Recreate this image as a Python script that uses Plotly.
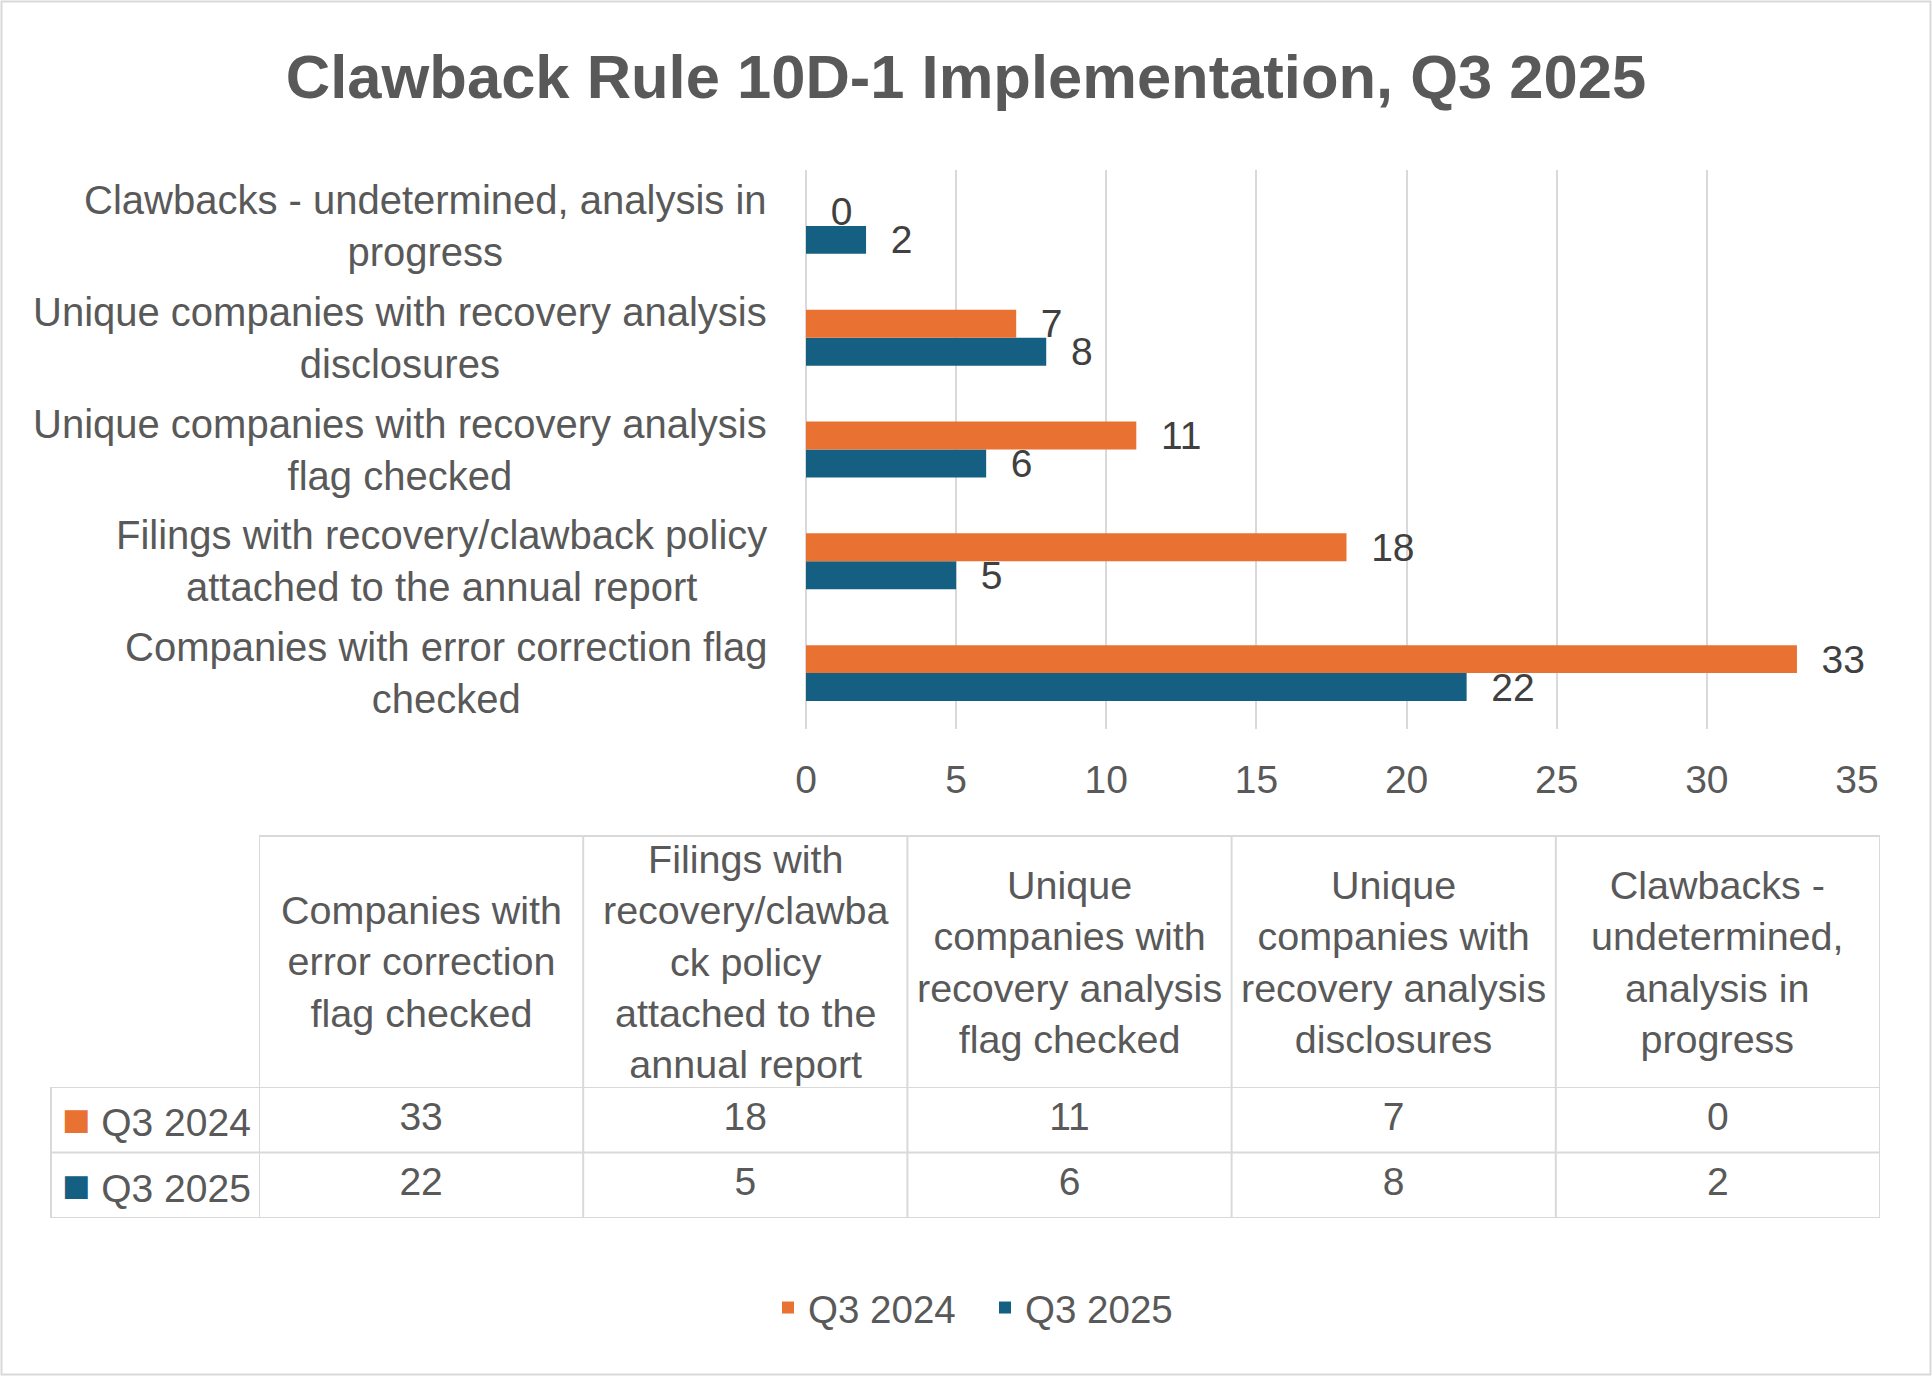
import plotly.graph_objects as go

# ---------------- data ----------------
categories = [
    "Companies with error correction flag checked",
    "Filings with recovery/clawback policy attached to the annual report",
    "Unique companies with recovery analysis flag checked",
    "Unique companies with recovery analysis disclosures",
    "Clawbacks - undetermined, analysis in progress",
]
axis_labels = [
    "Companies with error correction flag<br>checked",
    "Filings with recovery/clawback policy<br>attached to the annual report",
    "Unique companies with recovery analysis<br>flag checked",
    "Unique companies with recovery analysis<br>disclosures",
    "Clawbacks - undetermined, analysis in<br>progress",
]
table_headers = [
    "Companies with<br>error correction<br>flag checked",
    "Filings with<br>recovery/clawba<br>ck policy<br>attached to the<br>annual report",
    "Unique<br>companies with<br>recovery analysis<br>flag checked",
    "Unique<br>companies with<br>recovery analysis<br>disclosures",
    "Clawbacks -<br>undetermined,<br>analysis in<br>progress",
]
series_names = ["Q3 2024", "Q3 2025"]
q3_2024 = [33, 18, 11, 7, 0]
q3_2025 = [22, 5, 6, 8, 2]
x_ticks = [0, 5, 10, 15, 20, 25, 30, 35]

# ---------------- style ----------------
W, H = 1932, 1376
ORANGE = "#E97132"
BLUE = "#156082"
TEXT = "#595959"
LABEL = "#404040"
GRID = "#D9D9D9"
FONT = "Liberation Sans, Arial, sans-serif"

# table geometry (pixels)
T_LEFT, T_COL0, T_RIGHT = 51, 259, 1880
T_TOP, T_HDR_BOT, T_BOT = 836, 1087, 1218


def px(x):
    return x / W


def py(y):
    return 1 - y / H


fig = go.Figure()

# ---------------- bars ----------------
series = [(series_names[1], q3_2025, BLUE), (series_names[0], q3_2024, ORANGE)]
for name, vals, col in series:
    fig.add_trace(go.Bar(
        name=name, y=categories, x=vals, orientation="h",
        marker=dict(color=col, line=dict(width=0)),
        texttemplate="\u00a0\u00a0%{x}", textposition="outside",
        constraintext="none", cliponaxis=False,
        textfont=dict(family=FONT, size=39, color=LABEL),
        hoverinfo="skip",
    ))

# category labels (lines centred, block right-aligned)
for cat, lab in zip(categories, axis_labels):
    fig.add_annotation(
        x=px(769), xref="paper", y=cat, yref="y",
        text=lab, showarrow=False, xanchor="right", yanchor="middle",
        align="center", font=dict(family=FONT, size=40, color=TEXT),
    )

# ---------------- data table ----------------
tbl_x, tbl_y, tbl_t = [], [], []
for name, vals in zip(series_names, [q3_2024, q3_2025]):
    for cat, v in zip(categories, vals):
        tbl_x.append(cat)
        tbl_y.append(name)
        tbl_t.append(str(v))
fig.add_trace(go.Scatter(
    x=tbl_x, y=tbl_y, text=tbl_t, mode="text", textposition="middle center",
    textfont=dict(family=FONT, size=39, color=TEXT),
    xaxis="x2", yaxis="y2", showlegend=False, hoverinfo="skip",
    cliponaxis=False,
))

# header cells
for cat, head in zip(categories, table_headers):
    fig.add_annotation(
        x=cat, xref="x2", y=py((T_TOP + T_HDR_BOT) / 2), yref="paper",
        text=head, showarrow=False, xanchor="center", yanchor="middle",
        align="center", font=dict(family=FONT, size=39.5, color=TEXT),
    )

# row header cells with colour keys
for name, col in zip(series_names, [ORANGE, BLUE]):
    fig.add_annotation(
        x=px(T_LEFT + 9), xref="paper", y=name, yref="y2",
        text=f"<span style='color:{col};font-size:47px'>\u25A0</span> {name}",
        showarrow=False, xanchor="left", yanchor="middle", align="left",
        font=dict(family=FONT, size=39, color=TEXT),
    )

shapes = []
line = dict(color=GRID, width=2)
# horizontal rules
shapes.append(dict(type="line", xref="paper", yref="paper",
                   x0=px(T_COL0), x1=px(T_RIGHT), y0=py(T_TOP), y1=py(T_TOP), line=line))
for yb in [-0.5, 0.5, 1.5]:
    shapes.append(dict(type="line", xref="paper", yref="y2",
                       x0=px(T_LEFT), x1=px(T_RIGHT), y0=yb, y1=yb, line=line))
# vertical rules
shapes.append(dict(type="line", xref="paper", yref="paper",
                   x0=px(T_LEFT), x1=px(T_LEFT), y0=py(T_BOT), y1=py(T_HDR_BOT), line=line))
for i in range(len(categories) + 1):
    shapes.append(dict(type="line", xref="x2", yref="paper",
                       x0=i - 0.5, x1=i - 0.5, y0=py(T_BOT), y1=py(T_TOP), line=line))
# outer chart border
shapes.append(dict(type="rect", xref="paper", yref="paper",
                   x0=px(1.5), x1=1 - px(1.5), y0=1.5 / H, y1=1 - 1.5 / H,
                   line=dict(color=GRID, width=2), fillcolor="rgba(0,0,0,0)"))

fig.update_layout(
    width=W, height=H, autosize=False,
    margin=dict(l=0, r=0, t=0, b=0, pad=0, autoexpand=False),
    paper_bgcolor="white", plot_bgcolor="white",
    font=dict(family=FONT, size=39, color=TEXT),
    title=dict(
        text="Clawback Rule 10D-1 Implementation, Q3 2025",
        x=0.5, xanchor="center", y=py(76), yanchor="middle",
        font=dict(family=FONT, size=61.5, color=TEXT, weight="bold"),
    ),
    barmode="group", bargap=0.5, bargroupgap=0,
    xaxis=dict(
        domain=[px(806), px(1857)], range=[0, 35],
        tickvals=x_ticks, ticktext=[str(t) for t in x_ticks],
        showgrid=True, gridcolor=GRID, gridwidth=2,
        zeroline=True, zerolinecolor=GRID, zerolinewidth=2,
        showline=False, ticks="", ticklabelstandoff=24,
        tickfont=dict(family=FONT, size=39, color=TEXT),
        fixedrange=True, anchor="y", automargin=False,
    ),
    yaxis=dict(
        domain=[py(729), py(170)], range=[-0.5, 4.5],
        categoryorder="array", categoryarray=categories,
        showticklabels=False, showgrid=False, zeroline=False,
        showline=False, ticks="", fixedrange=True, anchor="x",
        automargin=False,
    ),
    xaxis2=dict(
        domain=[px(T_COL0), px(T_RIGHT)], range=[-0.5, 4.5],
        type="category", categoryorder="array", categoryarray=categories,
        visible=False, fixedrange=True, anchor="y2", automargin=False,
    ),
    yaxis2=dict(
        domain=[py(T_BOT), py(T_HDR_BOT)], range=[-0.5, 1.5],
        type="category", categoryorder="array",
        categoryarray=[series_names[1], series_names[0]],
        visible=False, fixedrange=True, anchor="x2", automargin=False,
    ),
    showlegend=True,
    legend=dict(
        orientation="h", x=px(985), xanchor="center", y=py(1308),
        yanchor="middle", traceorder="reversed", entrywidth=172,
        font=dict(family=FONT, size=38.5, color=TEXT),
        bgcolor="rgba(0,0,0,0)",
    ),
    shapes=shapes,
)

fig.write_html(
    "out.html",
    config={"displayModeBar": False},
    post_script="document.body.style.margin='0';document.body.style.overflow='hidden';",
)
